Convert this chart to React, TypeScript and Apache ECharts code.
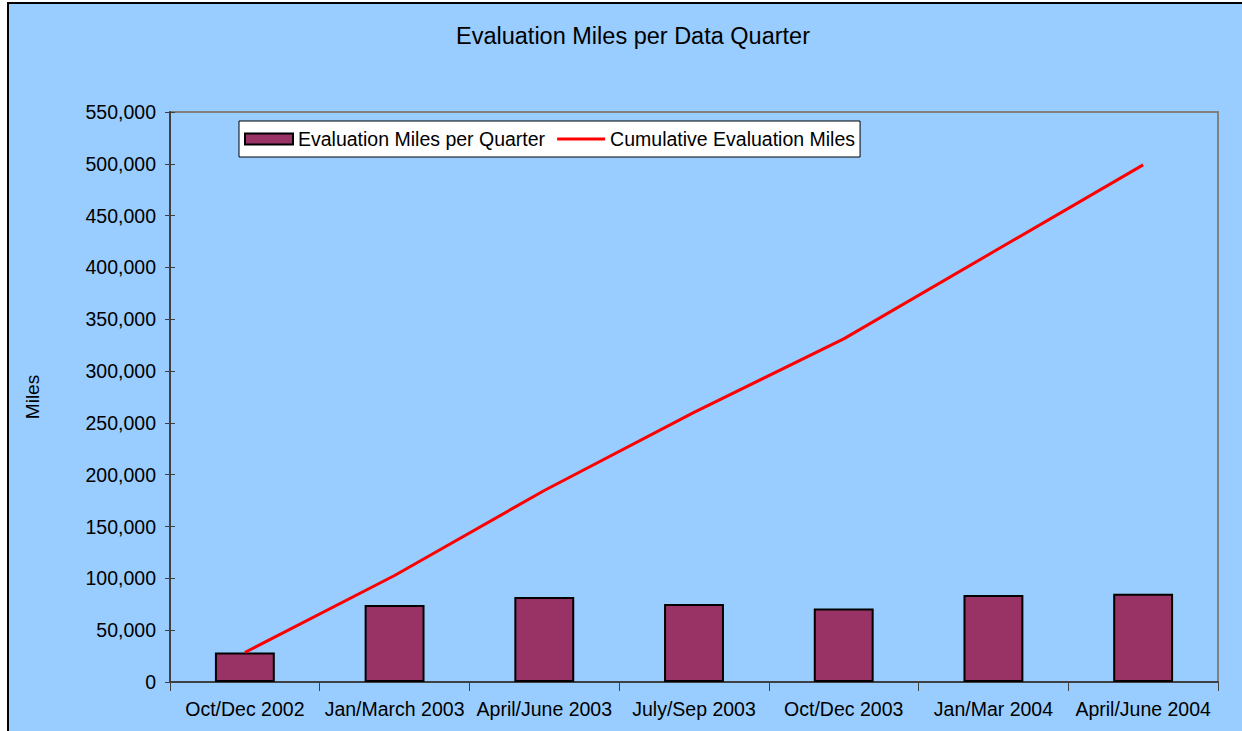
import React, { useEffect, useRef } from "react";
import * as echarts from "echarts";

const categories = [
  "Oct/Dec 2002",
  "Jan/March 2003",
  "April/June 2003",
  "July/Sep 2003",
  "Oct/Dec 2003",
  "Jan/Mar 2004",
  "April/June 2004",
];
const quarterMiles = [28500, 74300, 82000, 75300, 71000, 84000, 85200];
const cumulativeMiles = [28500, 102800, 184800, 260100, 331100, 415100, 499000];
const yTicks = { min: 0, max: 550000, interval: 50000 };

export default function App() {
  const ref = useRef<HTMLDivElement>(null);
  useEffect(() => {
    if (!ref.current) return;
    const chart = echarts.init(ref.current, undefined, { renderer: "svg" });
    const font = "'Liberation Sans', Arial, sans-serif";
    chart.setOption({
      animation: false,
      backgroundColor: "#ffffff",
      graphic: [
        {
          type: "rect",
          z: -10,
          silent: true,
          shape: { x: 8, y: 3, width: 1260, height: 760 },
          style: { fill: "#99CCFF", stroke: "#000000", lineWidth: 2 },
        },
      ],
      title: {
        text: "Evaluation Miles per Data Quarter",
        left: 628,
        textAlign: "center",
        top: 19,
        textStyle: { fontFamily: font, fontSize: 23.5, fontWeight: "normal", color: "#000" },
      },
      legend: {
        left: 239,
        top: 121,
        padding: [8, 5, 8, 5],
        itemGap: 12,
        itemWidth: 48,
        itemHeight: 11,
        backgroundColor: "#ffffff",
        borderColor: "#000000",
        borderWidth: 1,
        textStyle: { fontFamily: font, fontSize: 19.5, color: "#000" },
        data: [
          { name: "Evaluation Miles per Quarter", icon: "rect" },
          { name: "Cumulative Evaluation Miles", icon: "path://M0,0 H50 V3 H0 Z" },
        ],
      },
      grid: {
        left: 170,
        top: 112,
        right: 24,
        bottom: 49,
        show: true,
        borderColor: "#808080",
        borderWidth: 2,
      },
      xAxis: {
        type: "category",
        data: categories,
        boundaryGap: true,
        axisLine: { lineStyle: { color: "#404040", width: 2 } },
        axisTick: { show: true, length: 9, inside: false, lineStyle: { color: "#404040" } },
        axisLabel: { fontFamily: font, fontSize: 19.5, color: "#000", margin: 17, interval: 0 },
      },
      yAxis: [
        {
          type: "value",
          position: "left",
          min: yTicks.min,
          max: yTicks.max,
          interval: yTicks.interval,
          name: "Miles",
          nameLocation: "middle",
          nameRotate: 90,
          nameGap: 128,
          nameTextStyle: { fontFamily: font, fontSize: 19, color: "#000" },
          splitLine: { show: false },
          axisLine: { show: true, lineStyle: { color: "#404040", width: 2 } },
          axisTick: { show: true, length: 5, lineStyle: { color: "#404040" } },
          axisLabel: {
            fontFamily: font,
            fontSize: 19.5,
            color: "#000",
            margin: 14,
            formatter: (v: number) => v.toLocaleString("en-US"),
          },
        },
        {
          type: "value",
          position: "left",
          offset: 0,
          min: yTicks.min,
          max: yTicks.max,
          interval: yTicks.interval,
          splitLine: { show: false },
          axisLine: { show: false },
          axisTick: { show: true, inside: true, length: 5, lineStyle: { color: "#404040" } },
          axisLabel: { show: false },
        },
      ],
      series: [
        {
          name: "Evaluation Miles per Quarter",
          type: "bar",
          data: quarterMiles,
          barWidth: "40%",
          itemStyle: { color: "#993366", borderColor: "#000000", borderWidth: 2 },
        },
        {
          name: "Cumulative Evaluation Miles",
          type: "line",
          data: cumulativeMiles,
          symbol: "none",
          lineStyle: { color: "#ff0000", width: 3 },
          itemStyle: { color: "#ff0000" },
          z: 5,
        },
      ],
    });
    return () => chart.dispose();
  }, []);
  return (
    <div
      ref={ref}
      style={{ position: "absolute", left: 0, top: 0, width: 1242, height: 731 }}
    />
  );
}
